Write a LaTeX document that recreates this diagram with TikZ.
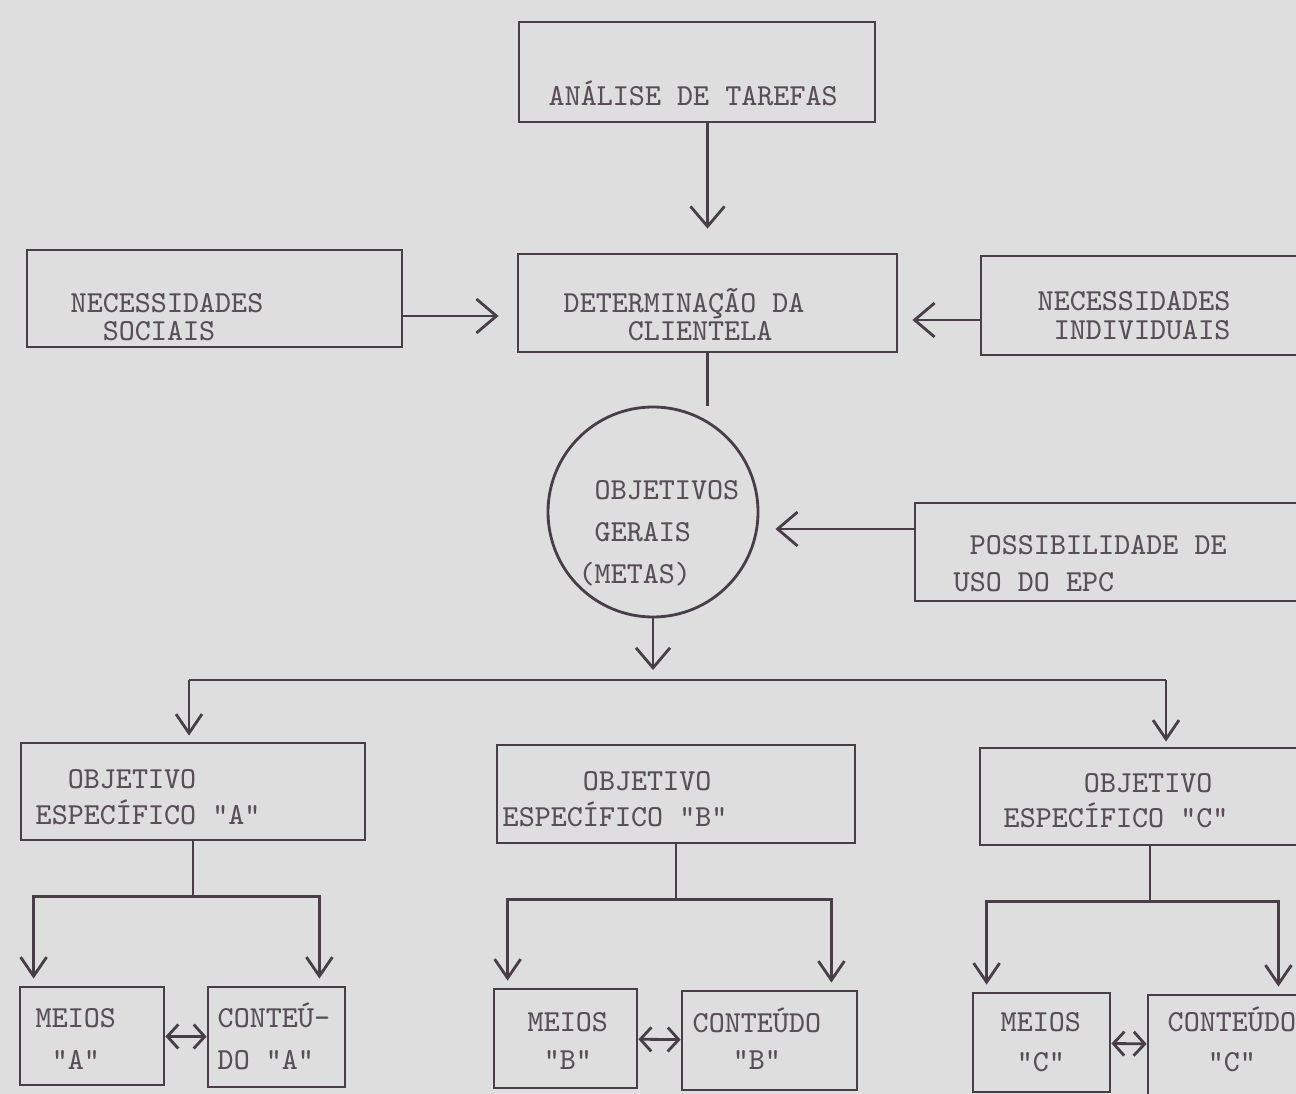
\documentclass[tikz,border=0pt]{standalone}
\usetikzlibrary{arrows.meta,calc}

\definecolor{paper}{RGB}{222,222,222}
\definecolor{ink}{RGB}{72,62,72}
\definecolor{typed}{RGB}{88,78,88}

\begin{document}
\begin{tikzpicture}[x=0.1mm,y=-0.1mm,
    box/.style 2 args={draw=ink,line width=0.8pt,inner sep=0pt,minimum width=#1,minimum height=#2},
    txt/.style={font={\ttfamily\fontsize{8.7}{#1}\selectfont},text=typed,inner sep=0pt,anchor=base west,align=left},
    link/.style={draw=ink,line width=0.8pt},
    arr/.style={link,-{Straight Barb[length=2mm,width=3.4mm]}},
    arrs/.style={link,-{Straight Barb[length=1.9mm,width=2.6mm]}},
    dbl/.style={link,{Straight Barb[length=1.1mm,width=2.4mm]}-{Straight Barb[length=1.1mm,width=2.4mm]}}]
    \useasboundingbox (0,0) rectangle (1296,1094);
    \fill[paper] (0,0) rectangle (1296,1094);
    \clip (0,0) rectangle (1296,1094);

    % boxes
    \node[box={35.6mm}{10mm}] (tarefas) at (697,72) {};
    \node[box={37.5mm}{9.7mm}] (sociais) at (214.5,298.5) {};
    \node[box={37.9mm}{9.8mm}] (determ) at (707.5,303) {};
    \node[box={33.9mm}{9.9mm}] (individ) at (1150.5,305.5) {};
    \node[draw=ink,line width=0.8pt,circle,minimum size=21mm] (gerais) at (653,512) {};
    \node[box={40.5mm}{9.8mm}] (possib) at (1117.5,552) {};
    \node[box={34.4mm}{9.7mm}] (objA) at (193,791.5) {};
    \node[box={35.8mm}{9.8mm}] (objB) at (676,794) {};
    \node[box={34mm}{9.7mm}] (objC) at (1150,796.5) {};
    \node[box={14.4mm}{9.8mm}] (meiosA) at (92,1036) {};
    \node[box={13.7mm}{10mm}] (contA) at (276.5,1037) {};
    \node[box={14.3mm}{9.9mm}] (meiosB) at (565.5,1038.5) {};
    \node[box={17.5mm}{9.9mm}] (contB) at (769.5,1040.5) {};
    \node[box={13.7mm}{9.9mm}] (meiosC) at (1041.5,1042.5) {};
    \node[box={15.6mm}{10mm}] (contC) at (1226,1045) {};

    % typed texts (anchored at the baseline of the last line)
    \node[txt=8.25] (tarefas-t) at (548,106) {ANÁLISE DE TAREFAS};
    \node[txt=8.25] (sociais-t) at (70,341) {NECESSIDADES\\\phantom{XX}SOCIAIS};
    \node[txt=8.25] (determ-t) at (563,341) {DETERMINAÇÃO DA\\\phantom{XXXX}CLIENTELA};
    \node[txt=8.25] (individ-t) at (1037,340) {NECESSIDADES\\\phantom{X}INDIVIDUAIS};
    \node[txt=12] (gerais-t) at (594,584) {OBJETIVOS\\GERAIS\\\llap{(}METAS)};
    \node[txt=10.5] (possib-t) at (953,591) {\phantom{X}POSSIBILIDADE DE\\USO DO EPC};
    \node[txt=9.96] (objA-t) at (35,824) {\phantom{XX}OBJETIVO\\ESPECÍFICO "A"};
    \node[txt=9.96] (objB-t) at (502,826) {\phantom{XXXXX}OBJETIVO\\ESPECÍFICO "B"};
    \node[txt=9.96] (objC-t) at (1003,827) {\phantom{XXXXX}OBJETIVO\\ESPECÍFICO "C"};
    \node[txt=11.95,align=center] (meiosA-t) at (35,1069) {MEIOS\\"A"};
    \node[txt=11.95] (contA-t) at (217,1069) {CONTEÚ-\\DO "A"};
    \node[txt=10.8,align=center] (meiosB-t) at (527,1069) {MEIOS\\"B"};
    \node[txt=10.5,align=center] (contB-t) at (692,1069) {CONTEÚDO\\"B"};
    \node[txt=11.1,align=center] (meiosC-t) at (1000,1071) {MEIOS\\"C"};
    \node[txt=11.1,align=center] (contC-t) at (1167,1071) {CONTEÚDO\\"C"};

    % connectors
    \draw[arr,shorten >=2.4mm] (tarefas.south -| determ.north) -- (determ.north);
    \draw[arr,shorten >=1.8mm] ([yshift=-1.75mm]sociais.east) -- ([yshift=-1.75mm]sociais.east -| determ.west);
    \draw[arr,shorten >=1.4mm] ([yshift=-1.45mm]individ.west) -- ([yshift=-1.45mm]individ.west -| determ.east);
    \draw[link] (determ.south) -- (determ.south |- gerais.north);
    \draw[arr,shorten >=1.6mm] ([yshift=2.3mm]possib.west) -- ([yshift=2.3mm]possib.west -| gerais.east);

    \coordinate (bus) at (653,680);
    \coordinate (busA) at (189,680);
    \coordinate (busC) at (1166,680);
    \draw[arr,shorten >=1mm] (gerais.south) -- (gerais.south |- bus);
    \draw[link] (busA) -- (busC);
    \draw[arrs,shorten >=0.6mm] (busA) -- (busA |- objA.north);
    \draw[arrs,shorten >=0.5mm] (busC) -- (busC |- objC.north);

    \foreach \s in {A,B,C}{
        \coordinate (l\s) at ([xshift=1.5mm]meios\s.north west);
        \coordinate (r\s) at ([xshift=-2.7mm]cont\s.north east);
        \draw[link] (obj\s.south) -- ++(0,55) coordinate (j\s);
        \draw[arrs,shorten >=0.7mm] (j\s) -| (l\s);
        \draw[arrs,shorten >=0.7mm] (j\s) -| (r\s);
        \draw[dbl] (meios\s) -- (cont\s);
    }
\end{tikzpicture}
\end{document}
